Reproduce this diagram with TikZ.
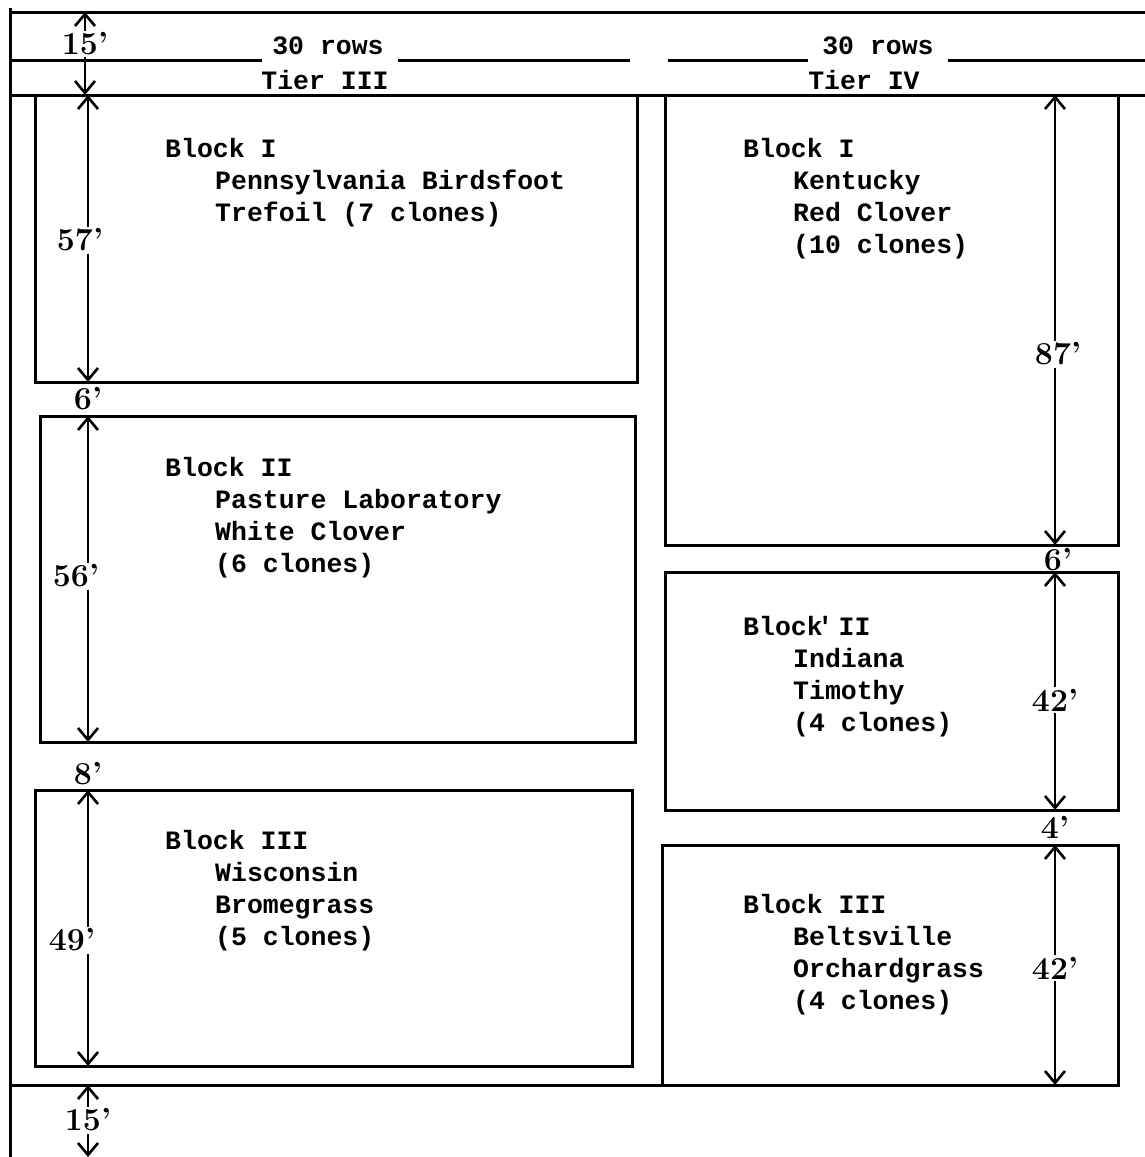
\documentclass[tikz,border=0pt]{standalone}
\usepackage{fontspec}
\newfontfamily\typefont{Liberation Mono}
\usetikzlibrary{arrows.meta}
\newcommand{\typed}{\typefont\bfseries\fontsize{26.5}{32}\selectfont}
\newcommand{\hand}{\bfseries\fontsize{32}{36}\selectfont}
\tikzset{
  plot/.style={line width=3pt},
  dim/.style={line width=2pt,-{Straight Barb[length=12pt,width=20pt,line width=2.6pt]}},
  typed/.style={font=\typed,anchor=base west,inner sep=0pt},
  tier/.style={font=\typed,anchor=base,inner sep=0pt},
  feet/.style={font=\hand,inner sep=2pt},
}
\begin{document}
\begin{tikzpicture}[x=1pt,y=-1pt]
        \useasboundingbox (0,0) rectangle (1145,1157);
        % frame and header
        \draw[plot] (10,8)--(10,1157);
        \draw[plot] (10,12)--(1145,12);
        \draw[plot] (10,95)--(1145,95);
        \draw[plot] (10,1085)--(662,1085);
        \node[tier] (rowsL) at (328,54) {30 rows};
        \node[tier] (rowsR) at (878,54) {30 rows};
        \node[tier] (tierL) at (325,89) {Tier III};
        \node[tier] (tierR) at (864,89) {Tier IV};
        \draw[plot] (10,60)--(262,60);
        \draw[plot] (398,60)--(630,60);
        \draw[plot] (668,60)--(808,60);
        \draw[plot] (948,60)--(1145,60);

        % blocks
        \coordinate (L1a) at (35,95);   \coordinate (L1b) at (637,382);
        \coordinate (L2a) at (40,416);  \coordinate (L2b) at (635,742);
        \coordinate (L3a) at (35,790);  \coordinate (L3b) at (632,1066);
        \coordinate (R1a) at (665,95);  \coordinate (R1b) at (1118,545);
        \coordinate (R2a) at (665,572); \coordinate (R2b) at (1118,810);
        \coordinate (R3a) at (662,845); \coordinate (R3b) at (1118,1085);
        \draw[plot] (L1a) rectangle (L1b);
        \draw[plot] (L2a) rectangle (L2b);
        \draw[plot] (L3a) rectangle (L3b);
        \draw[plot] (R1a) rectangle (R1b);
        \draw[plot] (R2a) rectangle (R2b);
        \draw[plot] (R3a) rectangle (R3b);

        \node[typed] (bl1) at (165,157) {Block I};
        \node[typed] (bl1a) at (215,189) {Pennsylvania Birdsfoot};
        \node[typed] (bl1b) at (215,221) {Trefoil (7 clones)};
        \node[typed] (bl2) at (165,476) {Block II};
        \node[typed] (bl2a) at (215,508) {Pasture Laboratory};
        \node[typed] (bl2b) at (215,540) {White Clover};
        \node[typed] (bl2c) at (215,572) {(6 clones)};
        \node[typed] (bl3) at (165,849) {Block III};
        \node[typed] (bl3a) at (215,881) {Wisconsin};
        \node[typed] (bl3b) at (215,913) {Bromegrass};
        \node[typed] (bl3c) at (215,945) {(5 clones)};
        \node[typed] (br1) at (743,157) {Block I};
        \node[typed] (br1a) at (793,189) {Kentucky};
        \node[typed] (br1b) at (793,221) {Red Clover};
        \node[typed] (br1c) at (793,253) {(10 clones)};
        \node[typed] (br2) at (743,635) {Block\rlap{\kern-0.2em'} II};
        \node[typed] (br2a) at (793,667) {Indiana};
        \node[typed] (br2b) at (793,699) {Timothy};
        \node[typed] (br2c) at (793,731) {(4 clones)};
        \node[typed] (br3) at (743,913) {Block III};
        \node[typed] (br3a) at (793,945) {Beltsville};
        \node[typed] (br3b) at (793,977) {Orchardgrass};
        \node[typed] (br3c) at (793,1009) {(4 clones)};

        % dimensions, left
        \node[feet] (d15t) at (85,44) {15'};
        \draw[dim] (d15t) -- (85,12);
        \draw[dim] (d15t) -- (85,95);
        \node[feet] (d57) at (80,240) {57'};
        \draw[dim] (d57.north -| 88,0) -- (88,95);
        \draw[dim] (d57.south -| 88,0) -- (88,382);
        \node[feet] (g6l) at (88,399) {6'};
        \node[feet] (d56) at (76,576) {56'};
        \draw[dim] (d56.north -| 88,0) -- (88,416);
        \draw[dim] (d56.south -| 88,0) -- (88,742);
        \node[feet] (g8) at (88,774) {8'};
        \node[feet] (d49) at (72,940) {49'};
        \draw[dim] (d49.north -| 88,0) -- (88,790);
        \draw[dim] (d49.south -| 88,0) -- (88,1066);
        \node[feet] (d15b) at (88,1120) {15'};
        \draw[dim] (d15b) -- (88,1085);
        \draw[dim] (d15b) -- (88,1157);

        % dimensions, right
        \node[feet] (d87) at (1058,354) {87'};
        \draw[dim] (d87.north -| 1055,0) -- (1055,95);
        \draw[dim] (d87.south -| 1055,0) -- (1055,545);
        \node[feet] (g6r) at (1058,560) {6'};
        \node[feet] (d42a) at (1055,700) {42'};
        \draw[dim] (d42a.north -| 1055,0) -- (1055,572);
        \draw[dim] (d42a.south -| 1055,0) -- (1055,810);
        \node[feet] (g4) at (1055,827) {4'};
        \node[feet] (d42b) at (1055,968) {42'};
        \draw[dim] (d42b.north -| 1055,0) -- (1055,845);
        \draw[dim] (d42b.south -| 1055,0) -- (1055,1085);
\end{tikzpicture}
\end{document}
